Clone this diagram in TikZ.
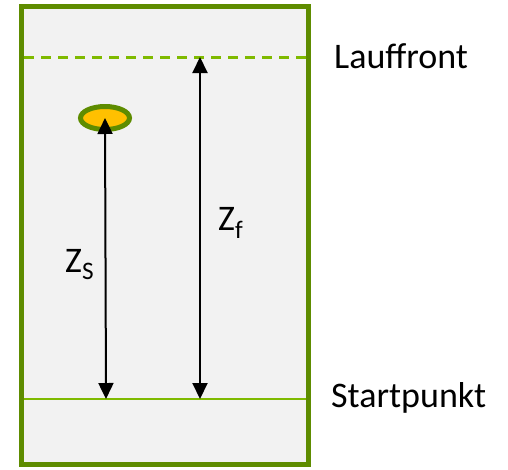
\documentclass[tikz,border=0pt]{standalone}
\usepackage{fontspec}
\setmainfont{Carlito}
\usetikzlibrary{arrows.meta,shapes.geometric}
\definecolor{frame}{HTML}{5E8C00}
\definecolor{lightgreen}{HTML}{7FBA00}
\definecolor{plate}{HTML}{F2F2F2}
\definecolor{spot}{HTML}{FFC000}
\tikzset{
  lbl/.style={font=\fontsize{36}{40}\selectfont, inner sep=0pt, anchor=base west},
  measure/.style={draw=black, line width=2pt, {Triangle[length=16pt,width=15pt]}-{Triangle[length=16pt,width=15pt]}},
}
\begin{document}
\begin{tikzpicture}[x=1pt,y=-1pt]
\useasboundingbox (0,0) rectangle (508,469);
\draw[fill=plate, draw=frame, line width=5pt] (21.5,6.5) rectangle (308.5,464.5);
\draw[lightgreen, line width=3pt, dash pattern=on 10pt off 7pt] (24,57) -- (306,57);
\draw[lightgreen, line width=2.5pt] (24,399) -- (306,399);
\node[draw=frame, fill=spot, line width=5pt, ellipse, minimum width=49pt, minimum height=23pt, inner sep=0pt] (spot) at (105,118) {};
\coordinate (s1) at (106,399);
\coordinate (f0) at (200,57);
\coordinate (f1) at (200,399);
\draw[measure] (s1) -- (spot.center);
\draw[measure] (f1) -- (f0);
\node[lbl] (lauf) at (334,68) {Lauffront};
\node[lbl] (start) at (331,407) {Startpunkt};
\node[lbl] (zf) at (218,230) {Z\textsubscript{f}};
\node[lbl] (zs) at (65,272) {Z\textsubscript{S}};
\end{tikzpicture}
\end{document}
